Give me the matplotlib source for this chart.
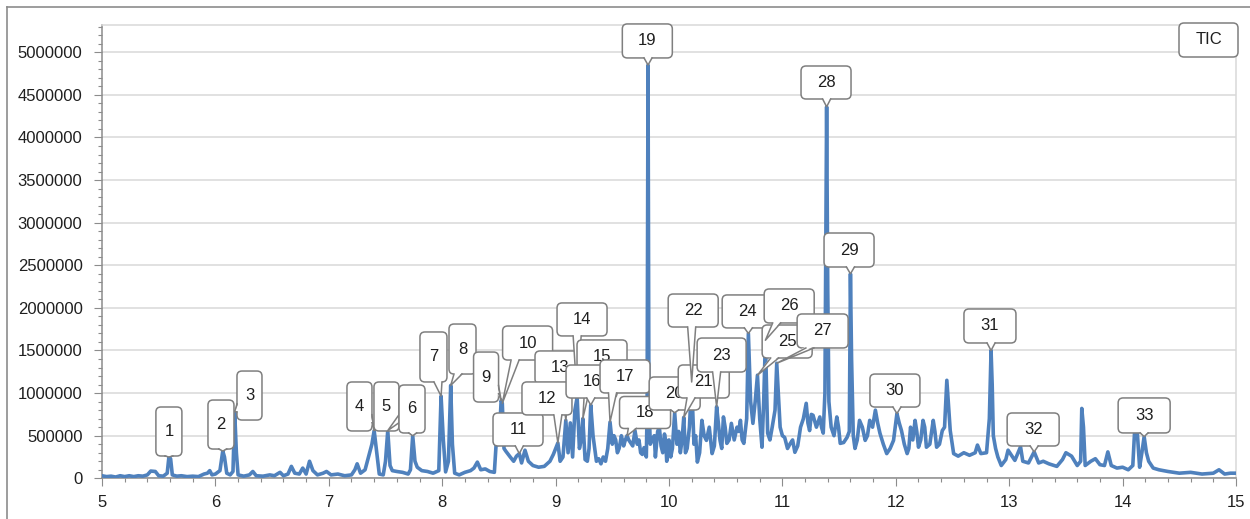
import numpy as np
import matplotlib
matplotlib.use("Agg")
import matplotlib.pyplot as plt
from matplotlib.patches import FancyBboxPatch, Polygon
from matplotlib.lines import Line2D
from matplotlib.transforms import IdentityTransform
from matplotlib.ticker import MultipleLocator, FuncFormatter

plt.rcParams['font.family'] = ['Liberation Sans', 'DejaVu Sans']

# retention time (min) and total ion current between the labelled peaks
rt = [5.00, 5.04, 5.08, 5.12, 5.16, 5.20, 5.24, 5.28, 5.32, 5.36,
      5.40, 5.43, 5.47, 5.50, 5.54, 5.575, 5.605, 5.62, 5.66, 5.70,
      5.75, 5.80, 5.85, 5.90, 5.93, 5.95, 5.97, 6.00, 6.04, 6.08,
      6.10, 6.13, 6.155, 6.185, 6.20, 6.25, 6.30, 6.33, 6.36, 6.42,
      6.48, 6.52, 6.57, 6.60, 6.64, 6.67, 6.70, 6.74, 6.77, 6.80,
      6.83, 6.86, 6.90, 6.95, 6.98, 7.02, 7.08, 7.14, 7.20, 7.23,
      7.25, 7.28, 7.32, 7.35, 7.38, 7.42, 7.445, 7.48, 7.50, 7.54,
      7.56, 7.60, 7.65, 7.70, 7.72, 7.76, 7.78, 7.82, 7.87, 7.92,
      7.97, 8.01, 8.03, 8.055, 8.09, 8.11, 8.15, 8.20, 8.25, 8.28,
      8.31, 8.34, 8.38, 8.42, 8.46, 8.475, 8.50, 8.545, 8.56, 8.60,
      8.63, 8.655, 8.70, 8.73, 8.76, 8.80, 8.85, 8.90, 8.95, 8.98,
      9.04, 9.065, 9.11, 9.13, 9.15, 9.17, 9.21, 9.225, 9.26, 9.28,
      9.295, 9.33, 9.36, 9.40, 9.44, 9.46, 9.50, 9.53, 9.56, 9.58,
      9.60, 9.66, 9.70, 9.72, 9.75, 9.78, 9.80, 9.807, 9.823, 9.835,
      9.85, 9.88, 9.90, 9.93, 9.96, 9.98, 10.00, 10.03, 10.07, 10.10,
      10.16, 10.18, 10.22, 10.25, 10.29, 10.33, 10.38, 10.45, 10.48, 10.51,
      10.55, 10.60, 10.63, 10.66, 10.685, 10.72, 10.74, 10.76, 10.80, 10.82,
      10.835, 10.87, 10.91, 10.935, 10.98, 11.02, 11.07, 11.11, 11.16, 11.21,
      11.24, 11.27, 11.33, 11.36, 11.375, 11.40, 11.41, 11.43, 11.48, 11.51,
      11.57, 11.59, 11.61, 11.625, 11.64, 11.68, 11.73, 11.77, 11.82, 11.86,
      11.92, 11.98, 12.05, 12.10, 12.13, 12.17, 12.20, 12.24, 12.27, 12.33,
      12.36, 12.41, 12.45, 12.48, 12.51, 12.55, 12.60, 12.65, 12.70, 12.72,
      12.75, 12.80, 12.825, 12.85, 12.86, 12.88, 12.90, 12.93, 12.97, 12.99,
      13.05, 13.10, 13.12, 13.17, 13.26, 13.30, 13.35, 13.42, 13.47, 13.50,
      13.55, 13.60, 13.63, 13.64, 13.655, 13.67, 13.72, 13.76, 13.80, 13.84,
      13.87, 13.90, 13.95, 14.00, 14.05, 14.09, 14.105, 14.13, 14.15, 14.17,
      14.21, 14.23, 14.27, 14.32, 14.40, 14.50, 14.60, 14.70, 14.80, 14.85,
      14.90, 14.95, 15.00,
      # denser noise through the crowded middle section
      9.345, 9.38, 9.42, 9.515, 9.545, 9.57, 9.615, 9.645, 9.68, 9.735,
      9.765, 9.87, 9.915, 9.945, 9.97, 10.015, 10.085, 10.115, 10.145, 10.235,
      10.27, 10.31, 10.355, 10.40, 10.435, 10.465, 10.495, 10.53, 10.575, 10.615,
      10.645, 10.89, 11.00, 11.045, 11.09, 11.135, 11.185, 11.225, 11.255, 11.30,
      11.345, 11.455, 11.495, 11.54, 11.66, 11.705, 11.75, 11.795, 11.84, 11.89,
      11.95, 12.03, 12.075, 12.115, 12.15, 12.185, 12.22, 12.255, 12.30, 12.345,
      12.385, 12.43]
tic = [30000, 20000, 25000, 15000, 30000, 20000, 30000, 20000, 30000, 25000,
       40000, 85000, 80000, 30000, 25000, 60000, 230000, 40000, 25000, 30000,
       20000, 25000, 20000, 50000, 60000, 90000, 40000, 50000, 90000, 250000,
       60000, 40000, 80000, 300000, 40000, 25000, 40000, 80000, 30000, 25000,
       40000, 30000, 70000, 30000, 50000, 140000, 60000, 50000, 120000, 50000,
       200000, 90000, 40000, 60000, 80000, 40000, 50000, 30000, 40000, 100000,
       170000, 60000, 100000, 250000, 400000, 330000, 50000, 40000, 200000, 150000,
       90000, 80000, 70000, 50000, 100000, 200000, 130000, 90000, 80000, 60000,
       90000, 450000, 75000, 200000, 400000, 60000, 40000, 70000, 90000, 120000,
       190000, 100000, 110000, 80000, 70000, 390000, 400000, 350000, 320000, 250000,
       200000, 260000, 180000, 330000, 200000, 150000, 130000, 140000, 200000, 280000,
       200000, 250000, 300000, 650000, 250000, 800000, 350000, 450000, 220000, 200000,
       350000, 500000, 200000, 170000, 200000, 350000, 400000, 450000, 350000, 500000,
       380000, 420000, 560000, 400000, 300000, 360000, 250000, 800000, 900000, 400000,
       450000, 250000, 550000, 380000, 520000, 200000, 450000, 350000, 400000, 300000,
       350000, 600000, 400000, 190000, 680000, 445000, 290000, 445000, 720000, 410000,
       645000, 600000, 680000, 410000, 700000, 900000, 645000, 900000, 700000, 365000,
       900000, 530000, 600000, 800000, 600000, 480000, 410000, 305000, 600000, 880000,
       560000, 740000, 720000, 530000, 1000000, 2200000, 900000, 600000, 720000, 410000,
       480000, 550000, 1400000, 500000, 350000, 680000, 445000, 680000, 800000, 530000,
       290000, 445000, 560000, 290000, 600000, 680000, 365000, 680000, 365000, 680000,
       365000, 560000, 1150000, 560000, 290000, 260000, 300000, 270000, 300000, 390000,
       290000, 300000, 700000, 1100000, 500000, 350000, 250000, 150000, 220000, 330000,
       210000, 370000, 200000, 180000, 180000, 200000, 170000, 140000, 220000, 300000,
       260000, 150000, 200000, 820000, 600000, 150000, 200000, 230000, 160000, 150000,
       310000, 150000, 120000, 130000, 100000, 150000, 530000, 530000, 130000, 300000,
       300000, 200000, 120000, 100000, 80000, 60000, 70000, 50000, 60000, 100000,
       50000, 60000, 60000,
       350000, 230000, 250000, 500000, 300000, 420000, 450000, 450000, 380000, 450000,
       280000, 500000, 600000, 300000, 450000, 250000, 550000, 450000, 300000, 500000,
       300000, 500000, 600000, 380000, 650000, 350000, 600000, 450000, 450000, 550000,
       450000, 450000, 500000, 350000, 450000, 380000, 700000, 650000, 750000, 600000,
       600000, 500000, 600000, 420000, 450000, 600000, 500000, 600000, 650000, 400000,
       350000, 650000, 400000, 350000, 450000, 550000, 450000, 600000, 400000, 550000,
       400000, 600000]

# labelled peaks
peak_id = [str(i) for i in range(1, 34)]
peak_rt = [5.59, 6.065, 6.17, 7.40, 7.52, 7.74, 7.99, 8.075, 8.52, 8.53,
           8.68, 9.02, 9.09, 9.19, 9.24, 9.31, 9.48, 9.63, 9.815, 10.05,
           10.13, 10.20, 10.42, 10.70, 10.78, 10.85, 10.95, 11.39, 11.60, 12.01,
           12.84, 13.22, 14.19]
peak_tic = [250000, 320000, 780000, 560000, 560000, 500000, 965000, 1090000, 915000, 880000,
            290000, 415000, 680000, 950000, 700000, 860000, 660000, 500000, 4850000, 770000,
            715000, 1130000, 840000, 1700000, 1210000, 1620000, 1350000, 4360000, 2400000, 760000,
            1500000, 310000, 490000]

# callout box: offset of centre from the peak (px, up is positive), width, height
callout_box = [(0, 25.5, 26, 49), (-1.8, 26.5, 26, 49), (14.8, 16.3, 25, 49),
               (-14.7, 24.1, 25, 49), (-1.3, 24.1, 25, 49), (-0.7, 26.7, 26, 48),
               (-7.6, 39.1, 27, 50), (11.8, 36.4, 27, 50), (-15.1, 23.3, 25, 50),
               (25.3, 60.3, 50, 34), (-1.3, 24.1, 50, 33), (-10.9, 44.5, 50, 33),
               (-5.8, 52.9, 50, 33), (4.9, 77.9, 50, 33), (19.2, 62.2, 50, 33),
               (0.8, 23.5, 51, 33), (15, 45.6, 50, 33), (18, 23.2, 51, 32),
               (-0.7, 24.1, 50, 34), (0, 19.2, 51, 33), (20, 35.9, 51, 33),
               (1.5, 71.5, 50, 33), (5, 51.7, 49, 34), (-1.2, 22, 50, 33),
               (29.7, 33.7, 50, 33), (23.8, 34.3, 50, 34), (45.9, 32.3, 51, 34),
               (-0.6, 24.3, 50, 33), (-1.4, 23.8, 50, 34), (-2, 23, 50, 33),
               (-1.1, 24.5, 52, 34), (-1, 22.4, 52, 33), (0, 21.1, 52, 35)]
draw_order = [0, 1, 2, 3, 4, 5, 6, 7, 8, 9, 10, 12, 11, 13, 14, 15, 16, 17, 18,
              19, 20, 21, 22, 23, 24, 25, 26, 27, 28, 29, 30, 31, 32]

LINE = '#4f81bd'
EDGE = '#7f7f7f'
GRID = '#d9d9d9'
AXIS = '#8c8c8c'
TEXT = '#1f1f1f'

t_all = np.concatenate([rt, peak_rt])
v_all = np.concatenate([tic, peak_tic])
order = np.argsort(t_all, kind='stable')

W, H = 1250, 519
fig = plt.figure(figsize=(W / 100, H / 100), dpi=100)
ax = fig.add_axes([102 / W, (H - 478.3) / H, 1134 / W, (478.3 - 25) / H])

ax.plot(t_all[order], v_all[order], color=LINE, lw=2.6, solid_joinstyle='round', zorder=3)

ax.set_xlim(5, 15)
ax.set_ylim(0, 5320000)
ax.xaxis.set_major_locator(MultipleLocator(1))
ax.xaxis.set_minor_locator(MultipleLocator(0.2))
ax.yaxis.set_major_locator(MultipleLocator(500000))
ax.yaxis.set_minor_locator(MultipleLocator(100000))
ax.yaxis.set_major_formatter(FuncFormatter(lambda v, p: f"{int(round(v))}"))
ax.xaxis.set_major_formatter(FuncFormatter(lambda v, p: f"{int(round(v))}"))

ax.yaxis.grid(True, which='major', color=GRID, lw=1.1)
ax.set_axisbelow(True)
for side in ('top', 'right'):
    ax.spines[side].set_color(GRID)
    ax.spines[side].set_linewidth(1.1)
for side in ('left', 'bottom'):
    ax.spines[side].set_color(AXIS)
    ax.spines[side].set_linewidth(1.1)

ax.tick_params(axis='both', which='major', length=6, width=0.8, color=AXIS,
               labelsize=12, labelcolor=TEXT)
ax.tick_params(axis='both', which='minor', length=3, width=0.8, color=AXIS)
ax.tick_params(axis='y', which='major', pad=8)
ax.tick_params(axis='x', which='major', pad=6)

ident = IdentityTransform()


def callout(tip, dx, dy, w, h, text, z):
    tx, ty = tip
    cx, cy = tx + dx, ty + dy
    x0, x1 = cx - w / 2, cx + w / 2
    y0, y1 = cy - h / 2, cy + h / 2
    box = FancyBboxPatch((x0, y0), w, h, boxstyle="round,pad=0,rounding_size=5",
                         fc='white', ec=EDGE, lw=1.1, transform=ident,
                         zorder=z, clip_on=False)
    ax.add_artist(box)
    hw = 4
    mx = max(5 + hw, 0.25 * w)
    my = max(5 + hw, 0.25 * h)
    if ty < y0:
        b = min(max(tx, x0 + mx), x1 - mx)
        p1, p2 = (b - hw, y0), (b + hw, y0)
        q1, q2 = (b - hw, y0 + 1.5), (b + hw, y0 + 1.5)
    elif ty > y1:
        b = min(max(tx, x0 + mx), x1 - mx)
        p1, p2 = (b - hw, y1), (b + hw, y1)
        q1, q2 = (b - hw, y1 - 1.5), (b + hw, y1 - 1.5)
    elif tx < x0:
        b = min(max(ty, y0 + my), y1 - my)
        p1, p2 = (x0, b - hw), (x0, b + hw)
        q1, q2 = (x0 + 1.5, b - hw), (x0 + 1.5, b + hw)
    else:
        b = min(max(ty, y0 + my), y1 - my)
        p1, p2 = (x1, b - hw), (x1, b + hw)
        q1, q2 = (x1 - 1.5, b - hw), (x1 - 1.5, b + hw)
    ax.add_artist(Polygon([q1, q2, (tx, ty)], closed=True, fc='white', ec='none',
                          transform=ident, zorder=z + 0.001, clip_on=False))
    ax.add_artist(Line2D([p1[0], tx, p2[0]], [p1[1], ty, p2[1]], color=EDGE, lw=1.1,
                         solid_joinstyle='round', transform=ident,
                         zorder=z + 0.002, clip_on=False))
    ax.text(cx, cy, text, transform=ident, ha='center', va='center', fontsize=12,
            color=TEXT, zorder=z + 0.003, clip_on=False)


for k, i in enumerate(draw_order):
    tip = ax.transData.transform((peak_rt[i], peak_tic[i]))
    dx, dy, w, h = callout_box[i]
    callout(tip, dx, dy, w, h, peak_id[i], 5 + k * 0.01)

# series name box in the top right corner
bb = ax.bbox
tic_box = FancyBboxPatch((bb.x1 - 57, bb.y1 - 32), 59, 34, boxstyle="round,pad=0,rounding_size=5",
                         fc='white', ec=EDGE, lw=1.1, transform=ident, zorder=6, clip_on=False)
ax.add_artist(tic_box)
ax.text(bb.x1 - 27.5, bb.y1 - 15, "TIC", transform=ident, ha='center', va='center',
        fontsize=12, color=TEXT, zorder=6.1, clip_on=False)

# chart frame
fig.add_artist(Line2D([7 / W, 7 / W], [0, 1 - 7 / H], transform=fig.transFigure, color=AXIS, lw=1.2))
fig.add_artist(Line2D([7 / W, 1], [1 - 7 / H, 1 - 7 / H], transform=fig.transFigure, color=AXIS, lw=1.2))

fig.savefig("out.png", dpi=100, facecolor='white')
